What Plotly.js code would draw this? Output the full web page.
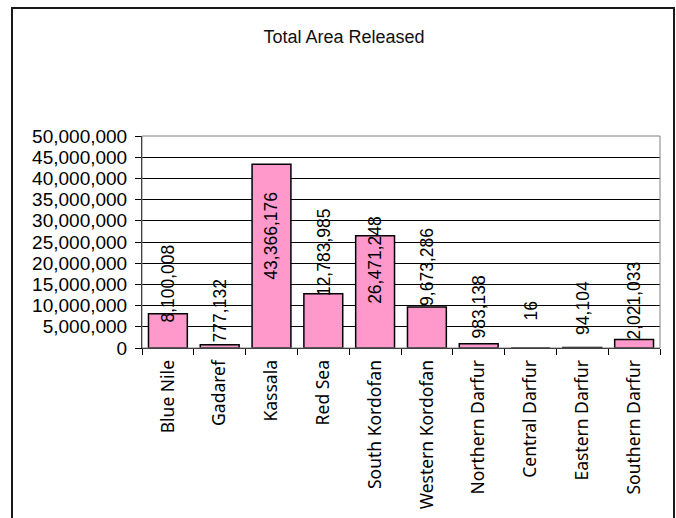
<!DOCTYPE html>
<html>
<head>
<meta charset="utf-8">
<script src="https://cdn.plot.ly/plotly-3.0.1.min.js"></script>
<style>
  html, body { margin: 0; padding: 0; background: #fff; overflow: hidden; }
  #wrap { position: relative; width: 676px; height: 518px; overflow: hidden; }
  #chart { position: absolute; left: 0; top: 0; width: 676px; height: 518px; }
  #frame { position: absolute; left: 11px; top: 7px; width: 664px; height: 600px;
           box-sizing: border-box; border: 2px solid #1a1a1a; pointer-events: none; }
</style>
</head>
<body>
<div id="wrap">
  <div id="chart"></div>
  <div id="frame"></div>
</div>
<script>
// ---- data ----
const regions = ["Blue Nile", "Gadaref", "Kassala", "Red Sea", "South Kordofan",
                 "Western Kordofan", "Northern Darfur", "Central Darfur", "Eastern Darfur", "Southern Darfur"];
const areaReleased = [8100008, 777132, 43366176, 12783985, 26471248,
                      9673286, 983138, 16, 94104, 2021033];
const yTickValues = [0, 5000000, 10000000, 15000000, 20000000, 25000000, 30000000, 35000000, 40000000, 45000000, 50000000];

// ---- styles ----
const barFill = "#FF99CC";
const labelShiftPx = [30, 34, -72, 42, -24, 40, 37, 37, 40, 39];

const fmt = v => v.toLocaleString("en-US");

const annotations = regions.map((r, i) => ({
  x: r, y: areaReleased[i], xref: "x", yref: "y",
  text: fmt(areaReleased[i]), showarrow: false, textangle: -90,
  yanchor: "middle", xanchor: "center", yshift: labelShiftPx[i],
  font: { family: "Liberation Sans, Arial, sans-serif", size: 17.5, color: "#000" }
}));

const trace = {
  type: "bar", x: regions, y: areaReleased,
  marker: { color: barFill, line: { color: "#000", width: 1.5 } },
  hoverinfo: "skip"
};

const layout = {
  width: 676, height: 518,
  margin: { l: 142, r: 16, t: 136, b: 170, pad: 0 },
  paper_bgcolor: "#fff", plot_bgcolor: "#fff",
  showlegend: false, bargap: 0.25,
  title: {
    text: "Total Area Released", xref: "container", yref: "container",
    x: 0.509, y: 0.9286, xanchor: "center", yanchor: "middle",
    font: { family: "Liberation Sans, Arial, sans-serif", size: 18, color: "#111" }
  },
  xaxis: {
    type: "category", tickson: "boundaries", ticks: "outside", ticklen: 6, tickcolor: "#000",
    showline: true, linecolor: "#000", linewidth: 1, showgrid: false, tickangle: -90,
    ticklabelstandoff: 4,
    tickfont: { family: "Noto Sans, sans-serif", size: 17.5, color: "#000" }
  },
  yaxis: {
    range: [0, 50000000], tickvals: yTickValues, ticktext: yTickValues.map(fmt),
    ticks: "outside", ticklen: 6, tickcolor: "#000", ticklabelstandoff: 4,
    showline: true, linecolor: "#000", linewidth: 1,
    showgrid: true, gridcolor: "#000", gridwidth: 1, zeroline: false,
    tickfont: { family: "Liberation Sans, Arial, sans-serif", size: 19, color: "#000" }
  },
  shapes: [{
    type: "rect", xref: "paper", yref: "paper", x0: 0, x1: 1, y0: 0, y1: 1,
    line: { color: "#808080", width: 1 }, layer: "above"
  }],
  annotations: annotations
};

Plotly.newPlot("chart", [trace], layout, { displayModeBar: false, staticPlot: true });
</script>
</body>
</html>
